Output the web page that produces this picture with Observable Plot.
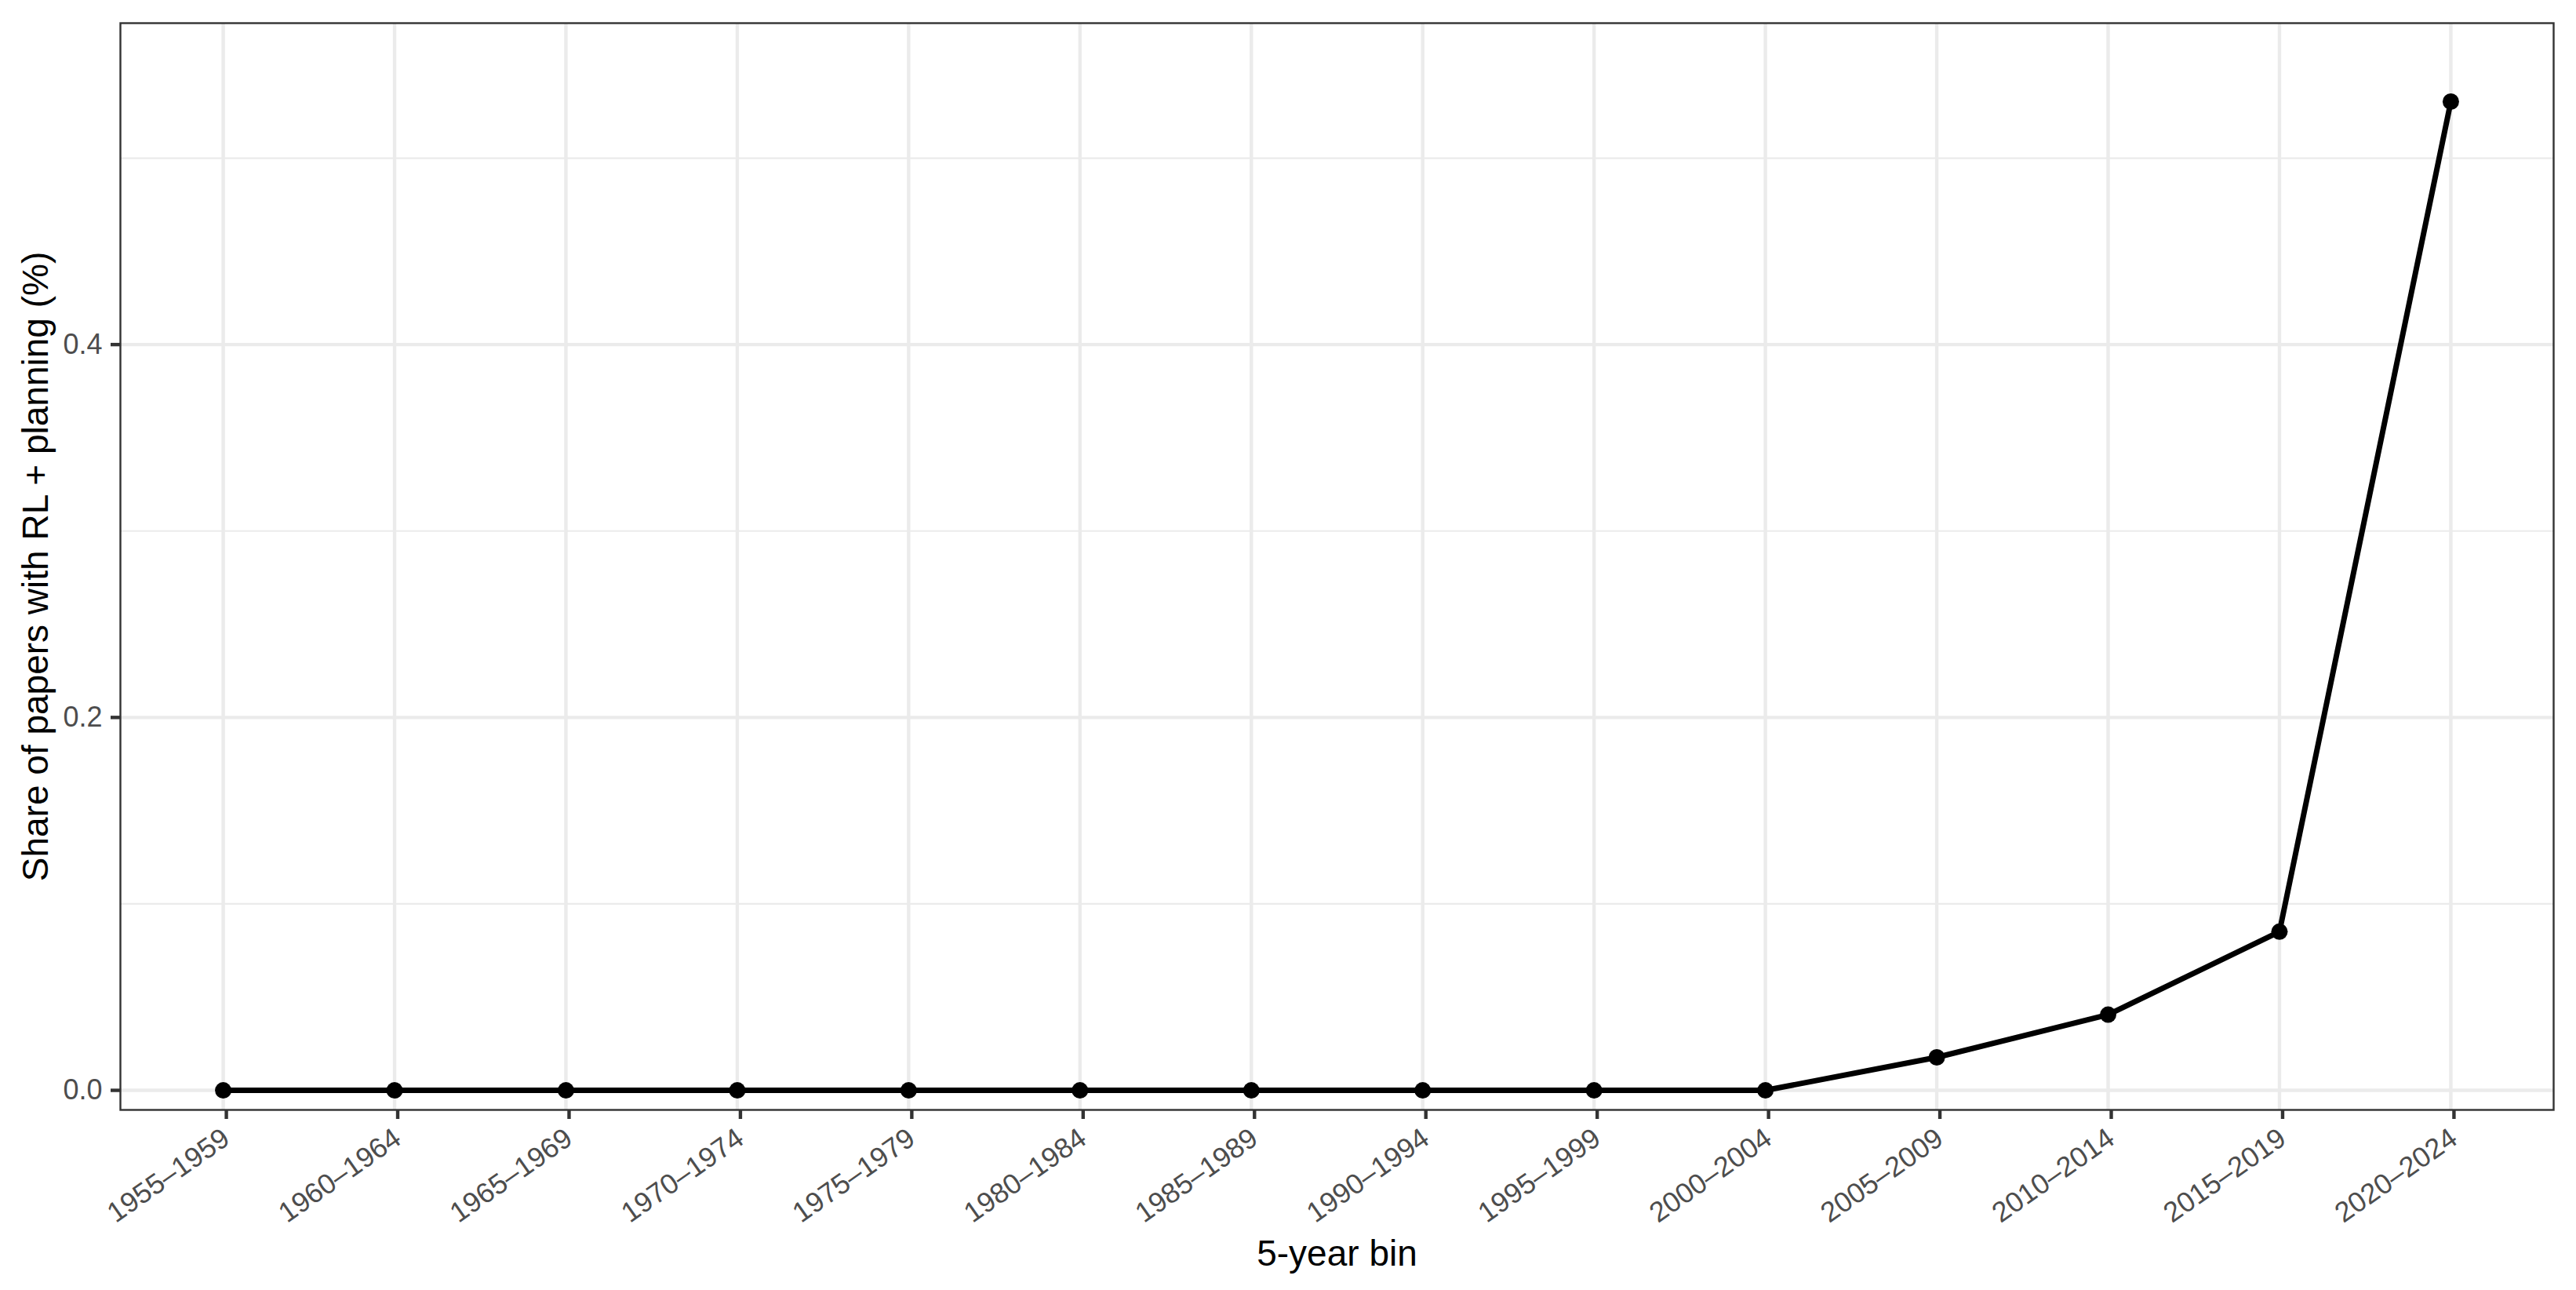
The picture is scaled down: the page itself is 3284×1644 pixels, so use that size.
<!DOCTYPE html>
<html>
<head>
<meta charset="utf-8">
<script src="https://cdn.jsdelivr.net/npm/d3@7"></script>
<script src="https://cdn.jsdelivr.net/npm/@observablehq/plot@0.6"></script>
<style>
  html, body { margin: 0; padding: 0; background: white; }
  svg { display: block; }
</style>
</head>
<body>
<div id="chart"></div>
<script>
const bins = ["1955–1959","1960–1964","1965–1969","1970–1974","1975–1979","1980–1984","1985–1989","1990–1994","1995–1999","2000–2004","2005–2009","2010–2014","2015–2019","2020–2024"];
const share = [0,0,0,0,0,0,0,0,0,0,0.0177,0.0406,0.0851,0.5303];
const yTicks = [0, 0.2, 0.4];
const yMinor = [0.1, 0.3, 0.5];
const xTitle = "5-year bin";
const yTitle = "Share of papers with RL + planning (%)";

const data = bins.map((b, i) => ({bin: b, share: share[i]}));

const chart = Plot.plot({
  width: 3284,
  height: 1644,
  marginLeft: 153,
  marginRight: 29,
  marginTop: 29,
  marginBottom: 230,
  style: {fontFamily: "'Liberation Sans', Arial, sans-serif", background: "white", color: "black"},
  x: {type: "point", domain: bins, padding: 0.6, round: false, label: null},
  y: {domain: [-0.0105, 0.5724], label: null},
  marks: [
    Plot.ruleY(yMinor, {stroke: "#EBEBEB", strokeWidth: 2.2}),
    Plot.ruleY(yTicks, {stroke: "#EBEBEB", strokeWidth: 4.4}),
    Plot.ruleX(bins, {stroke: "#EBEBEB", strokeWidth: 4.4}),
    Plot.line(data, {x: "bin", y: "share", stroke: "black", strokeWidth: 7}),
    Plot.dot(data, {x: "bin", y: "share", r: 10.5, fill: "black", stroke: "none"}),
    Plot.frame({stroke: "#333333", strokeWidth: 2.4}),
    Plot.axisY({ticks: yTicks, tickFormat: d3.format(".1f"), tickSize: 12, tickPadding: 11,
      fontSize: 36, fill: "#4D4D4D", stroke: "#333333", strokeWidth: 4.4, label: null}),
    Plot.axisX({tickSize: 12, tickPadding: 20, tickRotate: -35, textAnchor: "end", lineAnchor: "middle",
      dx: 4, fontSize: 36, fill: "#4D4D4D", stroke: "#333333", strokeWidth: 4.4, label: null}),
    Plot.text([yTitle], {frameAnchor: "left", dx: -107, rotate: -90, fontSize: 46, fill: "black",
      textAnchor: "middle", lineAnchor: "middle"}),
    Plot.text([xTitle], {frameAnchor: "bottom", dy: 184, fontSize: 46, fill: "black",
      textAnchor: "middle", lineAnchor: "middle"})
  ]
});
document.getElementById("chart").appendChild(chart);
</script>
</body>
</html>
